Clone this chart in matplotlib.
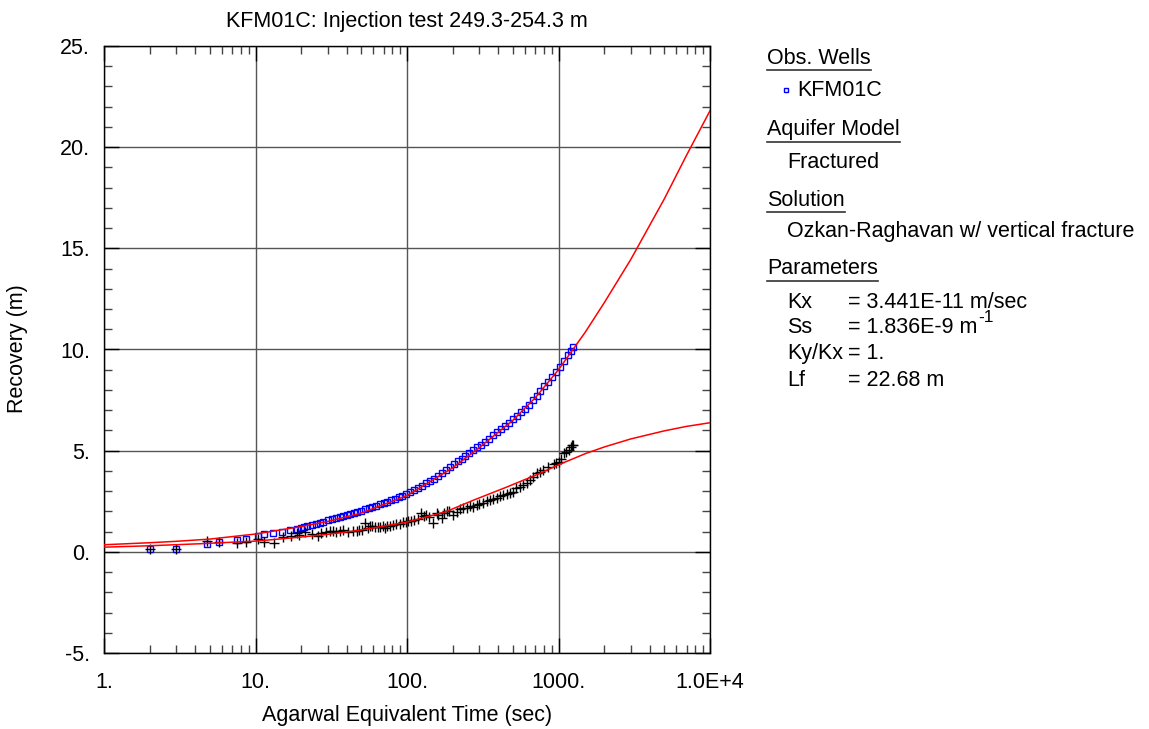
import matplotlib
matplotlib.use("Agg")
import matplotlib.pyplot as plt
from matplotlib.ticker import MultipleLocator, LogLocator, NullFormatter
from matplotlib.lines import Line2D

plt.rcParams['font.family'] = ['Liberation Sans', 'DejaVu Sans']
plt.rcParams['mathtext.fontset'] = 'custom'
plt.rcParams['mathtext.rm'] = 'Liberation Sans'
plt.rcParams['mathtext.it'] = 'Liberation Sans'

FS = 15.5

# observed recovery (blue squares)
obs_t = [2, 3, 4.8, 5.7, 7.6, 8.6, 10.4, 11.3, 13.1, 14.9, 16.9, 18.7, 20, 21, 22, 23.5, 25,
         26.5, 28, 30, 32, 34, 36, 38, 40, 42, 44.5, 47, 50, 53, 56, 59, 62, 66, 70, 74, 78,
         83, 88, 93, 99, 105, 111, 118, 125, 133, 141, 150, 159, 169, 180, 191, 203, 216,
         229, 243, 258, 274, 291, 309, 328, 348, 370, 393, 417, 443, 470, 499, 530, 563,
         598, 635, 674, 716, 760, 807, 857, 910, 966, 1026, 1090, 1157, 1210, 1250]
obs_s = [0.13, 0.16, 0.40, 0.49, 0.58, 0.63, 0.79, 0.89, 0.94, 1.00, 1.09, 1.15, 1.20, 1.24,
         1.28, 1.33, 1.38, 1.43, 1.48, 1.55, 1.61, 1.67, 1.72, 1.77, 1.82, 1.87, 1.92, 1.98,
         2.04, 2.11, 2.17, 2.22, 2.28, 2.34, 2.41, 2.48, 2.55, 2.63, 2.70, 2.77, 2.86, 2.96,
         3.06, 3.16, 3.26, 3.38, 3.50, 3.62, 3.75, 3.88, 4.03, 4.18, 4.33, 4.47, 4.60, 4.73,
         4.88, 5.02, 5.16, 5.30, 5.45, 5.60, 5.75, 5.90, 6.05, 6.22, 6.38, 6.55, 6.72, 6.89,
         7.07, 7.27, 7.48, 7.72, 7.96, 8.18, 8.40, 8.63, 8.88, 9.14, 9.43, 9.73, 9.95, 10.10]

# derivative (black plus)
der_t = [2, 3, 4.8, 5.7, 7.6, 8.6, 10.4, 11.3, 13.2, 15.1, 17.1, 18.7, 19.5, 21.2, 23.5, 25.9,
         27, 29.4, 31, 32.5, 34, 36, 38, 41, 44, 46.6, 48, 50.3, 52.8, 55, 57, 59, 61.6, 64,
         66.4, 69, 71.5, 74, 77, 81, 85, 90, 94.7, 98, 102, 107, 112, 118, 124, 129, 134,
         140, 149, 157, 160, 169, 175, 183, 190, 202, 215, 225, 236, 250, 260, 274, 290,
         300, 318, 335, 352, 370, 390, 410, 432, 455, 478, 500, 528, 555, 585, 615, 648,
         680, 717, 750, 794, 850, 928, 960, 1000, 1040, 1083, 1120, 1170, 1210, 1230, 1253]
der_s = [0.13, 0.16, 0.54, 0.51, 0.43, 0.48, 0.64, 0.51, 0.43, 0.71, 0.76, 0.92, 0.85, 0.97,
         0.89, 0.76, 0.95, 1.00, 1.02, 1.05, 1.00, 1.04, 1.06, 0.97, 1.02, 1.04, 1.10, 1.09,
         1.42, 1.20, 1.30, 1.28, 1.25, 1.22, 1.25, 1.28, 1.17, 1.30, 1.30, 1.35, 1.38, 1.40,
         1.45, 1.47, 1.50, 1.52, 1.58, 1.60, 1.91, 1.75, 1.83, 1.70, 1.42, 1.94, 1.82, 1.67,
         1.90, 2.03, 2.00, 1.83, 1.95, 2.10, 2.16, 2.15, 2.25, 2.21, 2.30, 2.38, 2.41, 2.50,
         2.57, 2.60, 2.65, 2.75, 2.82, 2.86, 2.90, 2.98, 3.15, 3.20, 3.31, 3.42, 3.56, 3.70,
         3.89, 3.95, 4.05, 4.20, 4.35, 4.38, 4.46, 4.60, 4.88, 4.95, 5.04, 5.20, 5.30, 5.29]

# Ozkan-Raghavan fit curves (red)
fit_t = [1, 2, 3, 5, 10, 20, 30, 50, 100, 200, 300, 500, 700, 1000, 1500, 2000, 3000, 5000,
         7000, 10000]
fit_s = [0.35, 0.45, 0.52, 0.63, 0.88, 1.25, 1.50, 1.92, 2.78, 4.15, 5.15, 6.50, 7.60, 9.00,
         10.85, 12.3, 14.45, 17.45, 19.6, 21.8]
fitd_t = [1, 2, 4.3, 10, 17, 28, 47, 77, 100, 180, 274, 455, 755, 1000, 1500, 2000, 3000,
          5000, 7000, 10000]
fitd_s = [0.23, 0.30, 0.40, 0.53, 0.68, 0.84, 1.05, 1.32, 1.47, 1.98, 2.55, 3.20, 3.88, 4.30,
          4.85, 5.18, 5.58, 5.98, 6.20, 6.38]

xticks = [1, 10, 100, 1000, 10000]
xtick_labels = ["1.", "10.", "100.", "1000.", "1.0E+4"]
yticks = [-5, 0, 5, 10, 15, 20, 25]
ytick_labels = ["-5.", "0.", "5.", "10.", "15.", "20.", "25."]

W, H = 1149, 729
fig = plt.figure(figsize=(W / 100, H / 100), dpi=100)
ax = fig.add_axes([104 / W, 1 - 653 / H, 606 / W, 607 / H])

ax.plot(fit_t, fit_s, color='red', lw=1.1, zorder=4)
ax.plot(fitd_t, fitd_s, color='red', lw=1.1, zorder=4)
ax.plot(obs_t, obs_s, ls='none', marker='s', ms=4.5, mfc='none', mec='#0000ff', mew=1.0, zorder=3)
ax.plot(der_t, der_s, ls='none', marker='+', ms=7, mec='black', mew=1.0, zorder=3)

ax.set_xscale('log')
ax.set_xlim(1, 10000)
ax.set_ylim(-5, 25)
ax.set_xticks(xticks)
ax.set_xticklabels(xtick_labels)
ax.set_yticks(yticks)
ax.set_yticklabels(ytick_labels)
ax.xaxis.set_minor_locator(LogLocator(base=10, subs=range(2, 10)))
ax.xaxis.set_minor_formatter(NullFormatter())
ax.yaxis.set_minor_locator(MultipleLocator(1))
ax.tick_params(which='both', direction='in', top=True, right=True, labelsize=FS, colors='black')
ax.tick_params(which='major', length=11, width=1)
ax.tick_params(which='minor', length=5.5, width=1, color='#444444')
ax.tick_params(axis='x', which='major', pad=14)
ax.tick_params(axis='y', which='major', pad=10)
ax.grid(True, which='major', color='#555555', lw=1)
for sp in ax.spines.values():
    sp.set_color('black')
    sp.set_linewidth(1)

fig.text(407 / W, 1 - 22 / H, "KFM01C: Injection test 249.3-254.3 m", ha='center', va='center', fontsize=FS)
fig.text(407 / W, 1 - 716 / H, "Agarwal Equivalent Time (sec)", ha='center', va='center', fontsize=FS)
fig.text(18 / W, 1 - 349 / H, "Recovery (m)", ha='center', va='center', rotation=90, fontsize=FS)

# side panel
headers = [("Obs. Wells", 58), ("Aquifer Model", 130), ("Solution", 200), ("Parameters", 269)]
head_texts = []
for txt, y in headers:
    head_texts.append(fig.text(767 / W, 1 - y / H, txt, ha='left', va='center', fontsize=FS))

fig.text(797 / W, 1 - 90 / H, "KFM01C", ha='left', va='center', fontsize=FS)
fig.add_artist(Line2D([786 / W], [1 - 90 / H], marker='s', ms=3.5, mfc='none', mec='#0000ff', mew=1))
fig.text(787 / W, 1 - 162 / H, "Fractured", ha='left', va='center', fontsize=FS)
fig.text(787 / W, 1 - 232 / H, "Ozkan-Raghavan w/ vertical fracture", ha='left', va='center', fontsize=FS)

param_names = ["Kx", "Ss", "Ky/Kx", "Lf"]
param_vals = ["= 3.441E-11 m/sec", "= 1.836E-9 m", "= 1.", "= 22.68 m"]
param_y = [302, 327, 353, 380]
val_texts = []
for name, val, y in zip(param_names, param_vals, param_y):
    fig.text(787 / W, 1 - y / H, name, ha='left', va='center', fontsize=FS)
    val_texts.append(fig.text(848 / W, 1 - y / H, val, ha='left', va='center', fontsize=FS))

fig.canvas.draw()
r = fig.canvas.get_renderer()
for t in head_texts:
    bb = t.get_window_extent(r)
    yb = bb.y0 - 1
    fig.add_artist(Line2D([bb.x0 / W, bb.x1 / W], [yb / H, yb / H], color='#333333', lw=1.2))

# superscript on the Ss unit
bb = val_texts[1].get_window_extent(r)
fig.text((bb.x1 + 1) / W, 1 - 318 / H, "-1", ha='left', va='center', fontsize=FS * 0.8)

fig.savefig("out.png", dpi=100)
